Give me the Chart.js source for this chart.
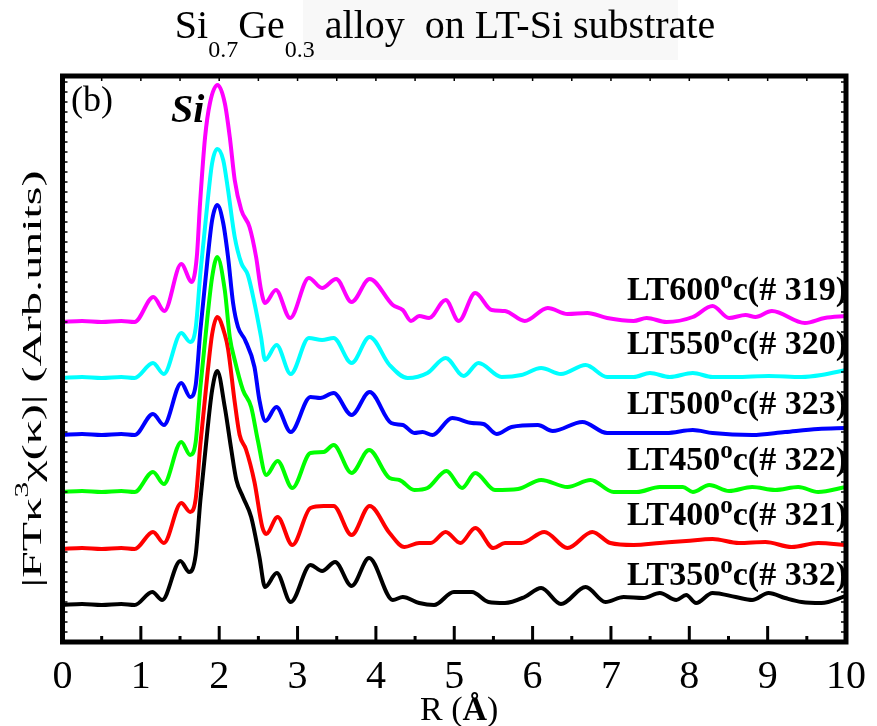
<!DOCTYPE html>
<html>
<head>
<meta charset="utf-8">
<script src="https://cdn.jsdelivr.net/npm/chart.js@4.4.0/dist/chart.umd.min.js"></script>
<style>
html,body{margin:0;padding:0;background:#fff;}
#wrap{width:877px;height:726px;position:relative;}
</style>
</head>
<body>
<div id="wrap"><canvas id="c" width="877" height="726"></canvas></div>
<script>
// ---------- data (R in Å, |FT| in arbitrary units incl. vertical stacking) ----------
const xTickValues = [0,1,2,3,4,5,6,7,8,9,10];
const seriesNames = ['LT600','LT550','LT500','LT450','LT400','LT350'];
const sampleIds   = ['# 319','# 320','# 323','# 322','# 321','# 332'];
const labelLevels = [342, 288, 228, 172, 117, 57];   // label baselines (y units)

const lt600 = [[0,320],[0.25,321],[0.5,320],[0.75,321],[0.92,320],[1.16,345],[1.30,331],[1.516,378],[1.65,360],[1.714,385],[1.756,439],[1.82,505],[1.882,539],[1.979,557],[2.071,539],[2.135,505],[2.198,462],[2.282,432],[2.387,415],[2.471,385],[2.534,352],[2.585,339],[2.724,352],[2.905,324],[3.144,364],[3.313,354],[3.493,363],[3.69,340],[3.92,363],[4.216,337],[4.343,332],[4.448,321],[4.553,326],[4.679,324],[4.89,342],[5.058,321],[5.268,349],[5.478,332],[5.647,331],[5.899,321],[6.193,334],[6.446,328],[6.698,329],[6.951,324],[7.288,321],[7.456,324],[7.708,320],[8.045,325],[8.297,336],[8.508,324],[8.718,327],[8.844,325],[9.054,331],[9.475,319],[9.728,324],[10,326]];
const lt550 = [[0,264],[0.25,265],[0.5,264],[0.75,265],[0.92,264],[1.155,279],[1.293,268],[1.516,309],[1.63,300],[1.70,314],[1.76,369],[1.85,439],[1.91,479],[1.975,493],[2.051,482],[2.113,452],[2.198,405],[2.282,379],[2.366,367],[2.45,339],[2.534,305],[2.585,282],[2.732,297],[2.913,268],[3.144,304],[3.313,302],[3.46,304],[3.69,279],[3.92,305],[4.174,277],[4.406,264],[4.658,269],[4.89,284],[5.121,266],[5.31,279],[5.605,265],[5.857,267],[6.109,274],[6.362,268],[6.677,277],[6.951,265],[7.288,265],[7.498,269],[7.75,265],[8.045,269],[8.297,265],[8.592,265],[9.012,266],[9.433,265],[9.686,267],[10,272]];
const lt500 = [[0,207],[0.25,208],[0.5,207],[0.75,208],[0.92,207],[1.155,228],[1.293,217],[1.516,259],[1.63,245],[1.70,257],[1.76,312],[1.85,382],[1.91,422],[1.975,437],[2.051,419],[2.113,385],[2.177,339],[2.24,315],[2.33,302],[2.45,275],[2.513,242],[2.59,221],[2.73,235],[2.913,210],[3.165,245],[3.29,244],[3.46,249],[3.69,227],[3.92,250],[4.195,219],[4.343,217],[4.49,209],[4.595,210],[4.721,207],[4.974,224],[5.226,219],[5.373,218],[5.542,208],[5.731,215],[6.067,217],[6.256,211],[6.635,220],[6.951,209],[7.288,209],[7.708,209],[8.045,212],[8.297,209],[8.802,207],[9.223,210],[9.644,213],[10,214]];
const lt450 = [[0,150],[0.25,151],[0.5,150],[0.75,151],[0.92,150],[1.155,170],[1.293,158],[1.516,200],[1.63,187],[1.70,200],[1.76,255],[1.85,325],[1.91,365],[1.975,385],[2.071,352],[2.135,305],[2.198,282],[2.303,252],[2.408,235],[2.492,202],[2.6,167],[2.745,181],[2.934,154],[3.165,189],[3.333,190],[3.46,197],[3.69,169],[3.913,192],[4.174,164],[4.3,162],[4.49,152],[4.658,154],[4.9,171],[5.1,154],[5.268,169],[5.52,152],[5.815,153],[6.109,162],[6.446,155],[6.74,162],[7.035,150],[7.33,150],[7.624,155],[7.918,155],[8.045,150],[8.255,157],[8.508,151],[8.802,155],[9.096,152],[9.391,155],[9.644,150],[10,155]];
const lt400 = [[0,93],[0.25,94],[0.5,93],[0.75,94],[0.92,93],[1.155,110],[1.293,99],[1.516,139],[1.63,130],[1.70,143],[1.76,198],[1.85,268],[1.91,308],[1.975,325],[2.07,308],[2.113,293],[2.198,240],[2.261,207],[2.34,193],[2.45,160],[2.55,115],[2.6,108],[2.745,125],[2.934,97],[3.165,134],[3.333,136],[3.46,136],[3.69,107],[3.92,136],[4.174,109],[4.364,95],[4.553,99],[4.7,99],[4.89,110],[5.079,99],[5.268,114],[5.5,94],[5.647,99],[5.857,99],[6.15,110],[6.446,94],[6.762,110],[6.993,99],[7.288,97],[7.624,99],[7.96,101],[8.297,103],[8.634,99],[8.97,100],[9.307,95],[9.644,99],[10,97]];
const lt350 = [[0,37],[0.25,38],[0.5,37],[0.75,38],[0.92,37],[1.146,50],[1.272,42],[1.504,81],[1.617,70],[1.70,87],[1.76,142],[1.85,212],[1.91,252],[1.975,271],[2.071,235],[2.155,192],[2.219,162],[2.303,145],[2.408,125],[2.513,85],[2.585,55],[2.735,69],[2.913,40],[3.165,77],[3.313,71],[3.48,80],[3.69,56],[3.913,84],[4.216,42],[4.343,45],[4.553,39],[4.742,37],[4.995,50],[5.226,50],[5.436,40],[5.647,39],[5.899,45],[6.109,54],[6.362,38],[6.677,55],[6.93,40],[7.162,45],[7.413,44],[7.624,49],[7.834,42],[7.96,47],[8.087,39],[8.297,49],[8.592,45],[8.802,42],[9.012,49],[9.223,44],[9.433,40],[9.686,39],[10,46]];

const seriesData = [lt600, lt550, lt500, lt450, lt400, lt350];
const seriesColors = ['#ff00ff','#00ffff','#0000ff','#00ff00','#ff0000','#000000'];

// ---------- helpers ----------
const SERIF = '"Liberation Serif", "Times New Roman", serif';
function richText(ctx, parts, x, y, align) {
  let w = 0;
  for (const p of parts) { ctx.font = p[1]; w += ctx.measureText(p[0]).width; }
  let cx = align === 'right' ? x - w : (align === 'center' ? x - w / 2 : x);
  for (const p of parts) {
    ctx.font = p[1];
    ctx.fillText(p[0], cx, y + (p[2] || 0));
    cx += ctx.measureText(p[0]).width;
  }
  return w;
}

const decor = {
  id: 'decor',
  beforeDraw(chart) {
    const ctx = chart.ctx;
    ctx.save();
    ctx.fillStyle = '#ffffff';
    ctx.fillRect(0, 0, chart.width, chart.height);
    ctx.fillStyle = '#f8f8f8';
    ctx.fillRect(303, 0, 375, 60);
    ctx.restore();
  },
  afterDraw(chart) {
    const ctx = chart.ctx;
    const a = chart.chartArea;
    const xs = chart.scales.x, ys = chart.scales.y;
    ctx.save();
    ctx.strokeStyle = '#000';
    ctx.fillStyle = '#000';
    // x ticks (bottom: major+minor inward; top: small)
    for (let i = 0; i <= 20; i++) {
      const v = i / 2;
      const px = xs.getPixelForValue(v);
      const major = (i % 2 === 0);
      ctx.lineWidth = 3;
      ctx.beginPath(); ctx.moveTo(px, a.bottom); ctx.lineTo(px, a.bottom - (major ? 16 : 6)); ctx.stroke();
      ctx.lineWidth = 1.5;
      ctx.beginPath(); ctx.moveTo(px, a.top); ctx.lineTo(px, a.top + 5); ctx.stroke();
    }
    // y minor ticks on both sides
    for (let v = 10; v < 566; v += 10) {
      const py = ys.getPixelForValue(v);
      ctx.lineWidth = 1.5;
      ctx.beginPath(); ctx.moveTo(a.left, py); ctx.lineTo(a.left + 5, py); ctx.stroke();
      ctx.beginPath(); ctx.moveTo(a.right, py); ctx.lineTo(a.right - 5, py); ctx.stroke();
    }
    // frame
    ctx.lineWidth = 5;
    ctx.strokeRect(a.left, a.top, a.right - a.left, a.bottom - a.top);

    ctx.textAlign = 'left';
    ctx.textBaseline = 'alphabetic';
    // main title with subscripts
    const tMain = '40px ' + SERIF, tSub = '24px ' + SERIF;
    richText(ctx, [['Si', tMain], ['0.7', tSub, 19], ['Ge', tMain], ['0.3', tSub, 19], [' alloy  on LT-Si substrate', tMain]], 445, 38, 'center');

    // panel tag and Si marker
    ctx.font = '36px ' + SERIF;
    ctx.fillText('(b)', 71, 111);
    ctx.font = 'italic bold 40px ' + SERIF;
    ctx.fillText('Si', 171, 122);

    // curve labels
    const lb = 'bold 34px ' + SERIF, ls = 'bold 25px ' + SERIF;
    for (let i = 0; i < seriesNames.length; i++) {
      const py = ys.getPixelForValue(labelLevels[i]);
      richText(ctx, [[seriesNames[i], lb], ['o', ls, -12], ['c(' + sampleIds[i] + ')', lb]], 847, py, 'right');
    }

    // x-axis title
    const xMid = (a.left + a.right) / 2 + 5;
    richText(ctx, [['R (', '34px ' + SERIF], ['\u00C5', 'bold 34px ' + SERIF], [')', '34px ' + SERIF]], xMid, 720, 'center');

    // y-axis title (rotated)
    ctx.save();
    ctx.translate(41, (a.top + a.bottom) / 2 + 20);
    ctx.rotate(-Math.PI / 2);
    const yf = '27px ' + SERIF, ysup = '18px ' + SERIF;
    const yParts = [['|FT\u03BA', yf], ['3', ysup, -13], ['\u03C7(\u03BA)| (Arb.units)', yf]];
    let w = 0;
    for (const p of yParts) { ctx.font = p[1]; w += ctx.measureText(p[0]).width; }
    ctx.scale(417 / w, 1);
    richText(ctx, yParts, 0, 0, 'center');
    ctx.restore();

    ctx.restore();
  }
};

new Chart(document.getElementById('c'), {
  type: 'line',
  data: {
    datasets: seriesData.map((s, i) => ({
      label: seriesNames[i],
      data: s.map(p => ({ x: p[0], y: p[1] })),
      borderColor: seriesColors[i],
      backgroundColor: seriesColors[i],
      borderWidth: 4,
      pointRadius: 0,
      fill: false,
      cubicInterpolationMode: 'monotone',
      borderJoinStyle: 'round',
      borderCapStyle: 'round'
    }))
  },
  options: {
    responsive: false,
    animation: false,
    devicePixelRatio: 1,
    layout: { padding: { left: 62.5, right: 22, top: 76, bottom: 0 } },
    plugins: { legend: { display: false }, tooltip: { enabled: false }, title: { display: false } },
    scales: {
      x: {
        type: 'linear', min: 0, max: 10,
        afterBuildTicks: (sc) => { sc.ticks = xTickValues.map(v => ({ value: v })); },
        afterFit: (sc) => { sc.height = 84; },
        ticks: { autoSkip: false, maxRotation: 0, color: '#000', padding: 11,
                 font: { family: SERIF, size: 40 } },
        grid: { display: false, drawTicks: false },
        border: { display: false }
      },
      y: {
        display: false, min: 0, max: 566
      }
    }
  },
  plugins: [decor]
});
</script>
</body>
</html>
